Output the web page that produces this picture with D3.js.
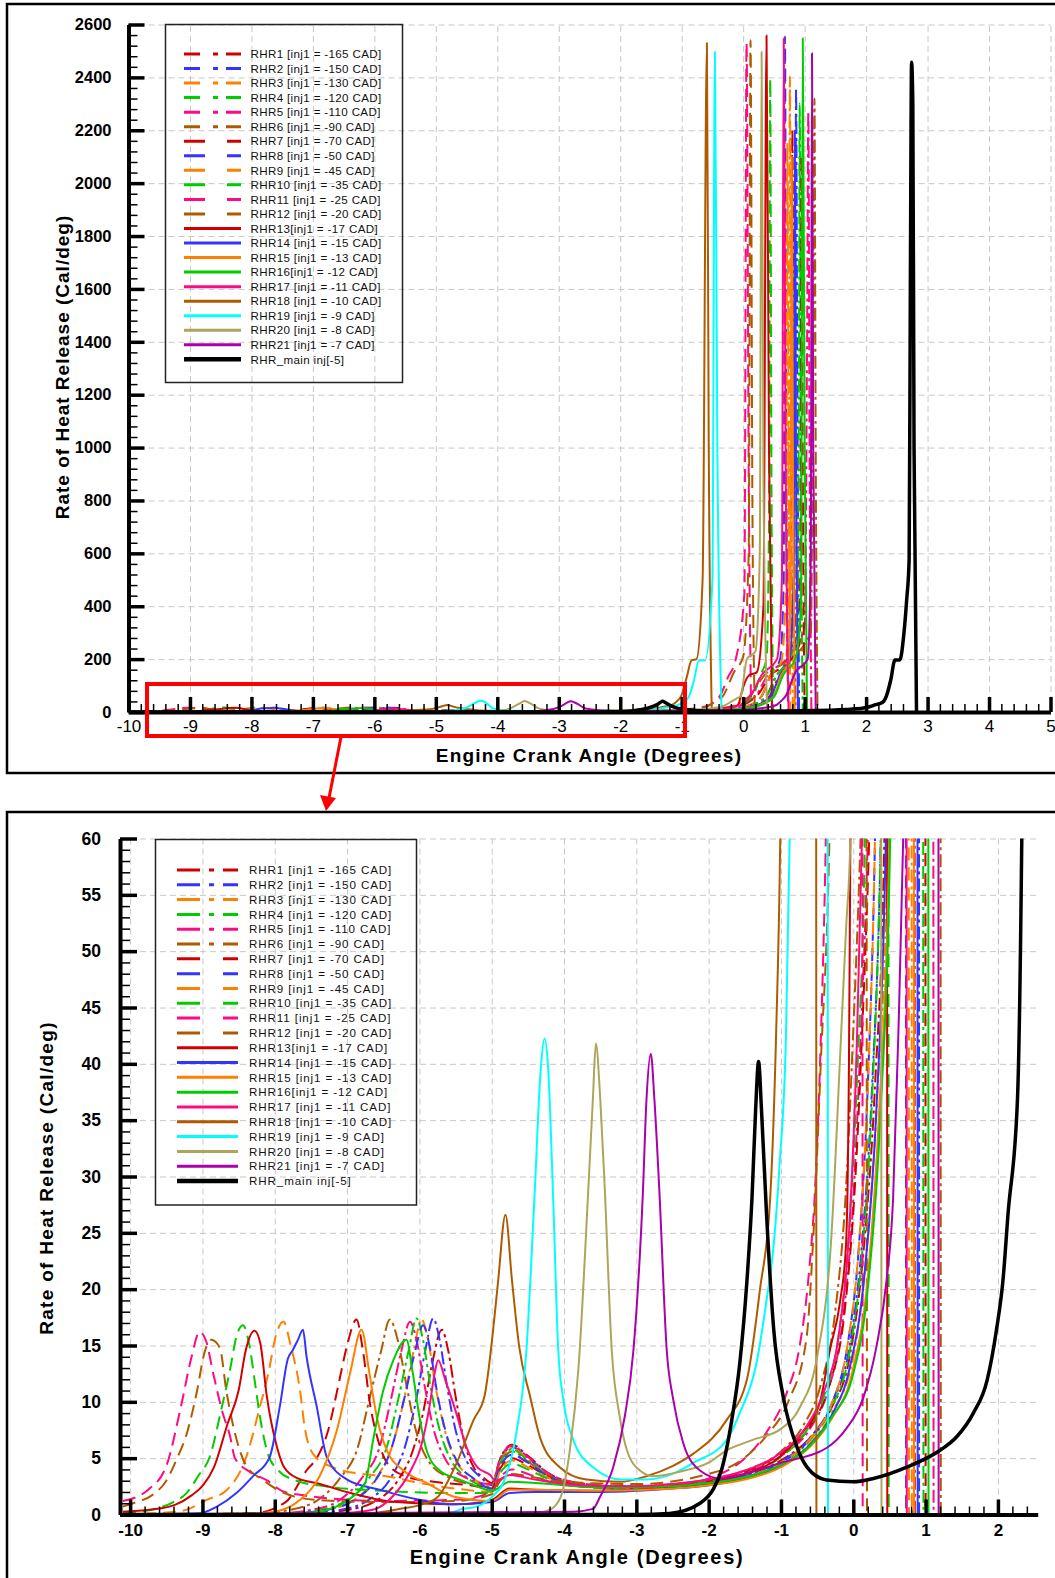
<!DOCTYPE html>
<html>
<head>
<meta charset="utf-8">
<script src="https://cdn.jsdelivr.net/npm/d3@7"></script>
<style>
  body { margin: 0; background: #fff; }
  svg { display: block; }
  text { font-family: "Liberation Sans", Arial, sans-serif; }
</style>
</head>
<body>
<svg id="chart" width="1055" height="1578"></svg>
<script>
// ---- data (x = crank angle deg, y = cal/deg) ----
const seriesLabels = [
  "RHR1 [inj1 = -165 CAD]", "RHR2 [inj1 = -150 CAD]", "RHR3 [inj1 = -130 CAD]",
  "RHR4 [inj1 = -120 CAD]", "RHR5 [inj1 = -110 CAD]", "RHR6 [inj1 = -90 CAD]",
  "RHR7 [inj1 = -70 CAD]", "RHR8 [inj1 = -50 CAD]", "RHR9 [inj1 = -45 CAD]",
  "RHR10 [inj1 = -35 CAD]", "RHR11 [inj1 = -25 CAD]", "RHR12 [inj1 = -20 CAD]",
  "RHR13[inj1 = -17 CAD]", "RHR14 [inj1 = -15 CAD]", "RHR15 [inj1 = -13 CAD]",
  "RHR16[inj1 = -12 CAD]", "RHR17 [inj1 = -11 CAD]", "RHR18 [inj1 = -10 CAD]",
  "RHR19 [inj1 = -9 CAD]", "RHR20 [inj1 = -8 CAD]", "RHR21 [inj1 = -7 CAD]",
  "RHR_main inj[-5]"
];

const rhr1 = [[-10.1,0],[-7.5,0.1],[-7.0,0.4],[-6.6,1.2],[-6.3,3.0],[-6.1,5.5],[-5.95,9],[-5.82,13.5],[-5.69,16.4],[-5.6,14.5],[-5.5,10.5],[-5.38,6.5],[-5.25,4.2],[-5.1,3.2],[-5.0,2.8],[-4.88,5.0],[-4.72,6.2],[-4.5,5.2],[-4.2,3.6],[-3.8,2.8],[-3.2,2.5],[-2.5,2.6],[-2.0,2.9],[-1.5,3.5],[-1.0,4.8],[-0.6,6.8],[-0.3,9.5],[-0.05,14],[0.15,24],[0.3,38],[0.43,60],[0.55,120],[0.68,180],[0.76,260],[0.79,1500],[0.8,2200],[0.82,1200],[0.85,0]];
const rhr2 = [[-10.1,0],[-7.6,0.1],[-7.1,0.4],[-6.7,1.3],[-6.4,3.2],[-6.2,6],[-6.05,10],[-5.92,14.5],[-5.81,17.4],[-5.72,15.5],[-5.62,11.5],[-5.5,7.5],[-5.35,4.8],[-5.15,3.3],[-5.0,2.6],[-4.88,4.8],[-4.72,6.0],[-4.5,5.0],[-4.2,3.5],[-3.8,2.7],[-3.2,2.4],[-2.5,2.5],[-2.0,2.8],[-1.5,3.4],[-1.0,4.7],[-0.6,6.8],[-0.3,9.8],[-0.05,15],[0.12,24],[0.26,38],[0.38,60],[0.52,130],[0.7,190],[0.82,280],[0.85,1600],[0.86,2360],[0.88,1300],[0.91,0]];
const rhr3 = [[-10.1,0],[-7.8,0.1],[-7.3,0.4],[-6.9,1.3],[-6.6,3.2],[-6.38,6],[-6.22,10],[-6.08,14.5],[-5.97,17.3],[-5.88,15.5],[-5.78,11.5],[-5.65,7.5],[-5.5,4.8],[-5.3,3.4],[-5.0,2.5],[-4.88,4.7],[-4.72,5.9],[-4.5,4.9],[-4.2,3.4],[-3.8,2.6],[-3.2,2.3],[-2.5,2.4],[-2.0,2.7],[-1.5,3.2],[-1.0,4.4],[-0.6,6.3],[-0.3,9],[0.0,14],[0.18,23],[0.33,37],[0.48,60],[0.6,140],[0.7,200],[0.74,600],[0.76,2403],[0.78,1000],[0.81,0]];
const rhr4 = [[-10.1,0],[-7.9,0.1],[-7.4,0.4],[-7.0,1.3],[-6.7,3.2],[-6.45,6],[-6.3,10],[-6.15,14.5],[-6.04,17.4],[-5.95,15.5],[-5.85,11.5],[-5.72,7.5],[-5.56,4.8],[-5.35,3.3],[-5.0,2.4],[-4.88,4.6],[-4.72,5.8],[-4.5,4.8],[-4.2,3.4],[-3.8,2.6],[-3.2,2.3],[-2.5,2.4],[-2.0,2.7],[-1.5,3.3],[-1.0,4.6],[-0.6,6.6],[-0.3,9.5],[-0.05,14.5],[0.12,23],[0.26,37],[0.38,60],[0.55,140],[0.75,200],[0.88,300],[0.91,1500],[0.92,2300],[0.94,900],[0.97,0]];
const rhr5 = [[-10.1,0],[-8.0,0.1],[-7.5,0.4],[-7.1,1.3],[-6.8,3.2],[-6.55,6],[-6.4,10],[-6.25,14.5],[-6.13,17.1],[-6.04,15.5],[-5.93,11.5],[-5.8,7.5],[-5.63,4.8],[-5.4,3.4],[-5.0,2.7],[-4.88,5.0],[-4.72,6.1],[-4.5,5.1],[-4.2,3.6],[-3.8,2.8],[-3.2,2.5],[-2.5,2.6],[-2.0,2.9],[-1.5,3.7],[-1.0,5.2],[-0.6,7.6],[-0.35,11],[-0.15,17],[0.0,28],[0.1,42],[0.2,60],[0.4,140],[0.7,200],[1.0,320],[1.04,1400],[1.06,2270],[1.08,1000],[1.11,0]];
const rhr6 = [[-10.1,0],[-8.2,0.1],[-7.8,0.4],[-7.4,1.3],[-7.1,3.2],[-6.85,6],[-6.7,10],[-6.53,14.5],[-6.41,17.3],[-6.3,15.5],[-6.18,11.5],[-6.05,7.5],[-5.88,4.8],[-5.6,3.3],[-5.2,2.6],[-5.0,2.4],[-4.88,4.4],[-4.72,5.6],[-4.5,4.7],[-4.2,3.4],[-3.8,2.7],[-3.2,2.5],[-2.5,2.7],[-2.0,3.1],[-1.5,3.9],[-1.0,5.6],[-0.7,7.8],[-0.45,11.5],[-0.25,18],[-0.1,29],[0.0,43],[0.1,60],[0.35,140],[0.7,190],[1.1,300],[1.14,1400],[1.16,2320],[1.18,1000],[1.21,0]];
const rhr7 = [[-10.1,0],[-8.3,0.1],[-7.85,1.1],[-7.55,4.0],[-7.42,5],[-7.26,7.5],[-7.12,11.5],[-7.0,15],[-6.87,17.3],[-6.78,14.5],[-6.68,9.7],[-6.58,6.8],[-6.45,4.6],[-6.2,3.4],[-5.8,2.9],[-5.3,2.6],[-5.0,2.3],[-4.88,4.1],[-4.72,5.0],[-4.5,4.4],[-4.2,3.3],[-3.8,2.6],[-3.2,2.4],[-2.5,2.6],[-2.0,3.0],[-1.5,3.8],[-1.0,5.4],[-0.6,7.8],[-0.33,11.5],[-0.12,18],[0.03,30],[0.13,44],[0.22,60],[0.45,140],[0.75,190],[0.92,260],[0.94,1300],[0.95,2100],[0.97,900],[1.0,0]];
const rhr8 = [[-10.1,0],[-7.8,0.1],[-7.3,0.4],[-6.9,1.3],[-6.6,3.1],[-6.38,6],[-6.22,10],[-6.07,14.2],[-5.95,16.8],[-5.86,15],[-5.76,11],[-5.63,7.2],[-5.47,4.6],[-5.25,3.2],[-5.0,2.3],[-4.88,4.3],[-4.72,5.3],[-4.5,4.6],[-4.2,3.3],[-3.8,2.6],[-3.2,2.3],[-2.5,2.4],[-2.0,2.7],[-1.5,3.3],[-1.0,4.6],[-0.6,6.7],[-0.3,9.8],[-0.08,15],[0.08,24],[0.2,38],[0.3,60],[0.45,140],[0.6,200],[0.66,500],[0.68,2555],[0.7,1100],[0.73,0]];
const rhr9 = [[-10.1,0],[-9.3,0.3],[-8.94,1.3],[-8.66,2.2],[-8.4,5],[-8.2,9.7],[-8.09,12.5],[-7.98,16],[-7.88,17.1],[-7.78,15],[-7.65,11],[-7.58,7.5],[-7.45,5.2],[-7.2,4.2],[-6.8,3.6],[-6.46,3.4],[-6.0,2.8],[-5.5,2.3],[-5.0,2.0],[-4.88,3.9],[-4.72,4.8],[-4.5,4.2],[-4.2,3.2],[-3.8,2.5],[-3.2,2.3],[-2.5,2.4],[-2.0,2.7],[-1.5,3.3],[-1.0,4.6],[-0.6,6.7],[-0.3,9.8],[-0.08,15],[0.08,24],[0.2,38],[0.3,60],[0.45,140],[0.62,190],[0.7,500],[0.72,2150],[0.74,900],[0.77,0]];
const rhr10 = [[-10.1,0.1],[-9.6,0.6],[-9.4,1.1],[-9.22,1.9],[-9.05,3.5],[-8.9,5.1],[-8.74,9.3],[-8.62,12.8],[-8.53,15.8],[-8.44,16.8],[-8.35,15],[-8.28,12],[-8.2,8.5],[-8.1,5.5],[-7.95,3.9],[-7.7,3.0],[-7.3,2.5],[-6.5,2.1],[-5.5,1.9],[-5.0,1.9],[-4.88,3.7],[-4.72,4.5],[-4.5,4.0],[-4.2,3.1],[-3.8,2.5],[-3.2,2.3],[-2.5,2.5],[-2.0,2.9],[-1.5,3.6],[-1.0,5.1],[-0.65,7.4],[-0.4,10.6],[-0.2,16],[-0.05,26],[0.06,40],[0.16,60],[0.28,140],[0.38,200],[0.42,700],[0.44,2395],[0.46,900],[0.49,0]];
const rhr11 = [[-10.1,1.2],[-9.75,2.2],[-9.5,4.3],[-9.3,9.5],[-9.15,14],[-9.04,16.2],[-8.95,15.4],[-8.85,12.5],[-8.72,9],[-8.62,7],[-8.55,5],[-8.35,3.8],[-8.1,3.0],[-7.9,2.1],[-7.6,1.7],[-7.2,1.4],[-6.5,1.2],[-5.5,1.3],[-5.0,2.0],[-4.88,3.3],[-4.72,4.0],[-4.5,3.6],[-4.2,2.9],[-3.8,2.5],[-3.2,2.4],[-2.5,2.6],[-2.0,3.2],[-1.5,5.0],[-1.2,7.3],[-0.92,10.8],[-0.74,15],[-0.62,21],[-0.52,30],[-0.45,42],[-0.38,60],[-0.25,130],[-0.12,200],[0.02,450],[0.055,2530],[0.09,900],[0.13,0]];
const rhr12 = [[-10.1,0.7],[-9.96,1.0],[-9.7,1.7],[-9.5,3.0],[-9.35,5],[-9.22,7.1],[-9.08,10.8],[-8.97,14.4],[-8.88,15.5],[-8.76,14.8],[-8.67,11],[-8.55,7.2],[-8.4,4.4],[-8.17,3.1],[-7.9,2.0],[-7.43,1.3],[-6.5,1.1],[-5.5,1.2],[-5.0,1.8],[-4.88,3.0],[-4.72,3.6],[-4.5,3.4],[-4.0,2.9],[-3.0,2.7],[-2.0,3.6],[-1.6,4.6],[-1.2,7],[-0.9,10],[-0.65,15.5],[-0.55,25],[-0.45,40],[-0.33,60],[-0.15,150],[0.0,210],[0.09,600],[0.12,2540],[0.15,800],[0.19,0]];
const rhr13 = [[-10.1,0.25],[-9.57,0.55],[-9.38,0.85],[-9.15,1.7],[-8.99,2.6],[-8.84,4.2],[-8.65,8.1],[-8.5,11],[-8.4,14.6],[-8.28,16.3],[-8.2,15.2],[-8.11,10.5],[-7.97,6.0],[-7.87,4.2],[-7.68,3.2],[-7.43,2.8],[-6.95,1.9],[-6.46,1.2],[-6.0,1.0],[-5.5,0.9],[-5.0,1.3],[-4.75,2.3],[-4.4,2.2],[-3.5,2.1],[-2.5,2.4],[-2.0,2.8],[-1.5,3.6],[-1.0,5.2],[-0.7,7.3],[-0.46,10],[-0.32,14.7],[-0.18,19],[-0.1,24],[-0.06,40],[-0.04,60],[0.1,140],[0.22,150],[0.33,400],[0.38,2558],[0.42,1000],[0.47,0]];
const rhr14 = [[-10.1,0],[-9.04,0.1],[-8.8,0.7],[-8.53,1.9],[-8.3,3.4],[-8.07,5.1],[-7.93,9.6],[-7.82,13.8],[-7.75,14.6],[-7.68,15.5],[-7.61,16.4],[-7.56,14],[-7.42,9.6],[-7.28,5.1],[-7.0,3.1],[-6.55,2.2],[-6.0,1.3],[-5.53,0.9],[-5.0,1.1],[-4.75,1.9],[-4.4,2.0],[-3.5,2.0],[-2.5,2.3],[-2.0,2.6],[-1.5,3.2],[-1.0,4.3],[-0.6,6.2],[-0.3,8.8],[-0.05,13],[0.15,21],[0.32,36],[0.45,60],[0.6,140],[0.75,190],[0.82,500],[0.84,2200],[0.86,900],[0.89,0]];
const rhr15 = [[-10.1,0],[-8.2,0.1],[-7.9,0.4],[-7.65,1.3],[-7.38,3.4],[-7.14,7.5],[-6.96,12.5],[-6.8,16.4],[-6.69,12.5],[-6.59,8.7],[-6.45,5.7],[-6.22,3.9],[-5.9,2.8],[-5.53,1.6],[-5.0,1.2],[-4.75,2.2],[-4.4,2.2],[-3.5,2.1],[-2.5,2.3],[-2.0,2.6],[-1.5,3.1],[-1.0,4.2],[-0.6,6.0],[-0.3,8.5],[0.0,13],[0.2,21],[0.36,36],[0.5,60],[0.62,140],[0.74,190],[0.77,500],[0.79,2100],[0.81,900],[0.84,0]];
const rhr16 = [[-10.1,0],[-7.6,0.1],[-7.28,0.4],[-6.92,1.6],[-6.75,2.8],[-6.64,6.6],[-6.5,11],[-6.36,13.7],[-6.18,15.5],[-6.09,12.5],[-6.0,8.7],[-5.9,5.7],[-5.72,3.9],[-5.44,3.1],[-5.2,2.5],[-5.0,2.1],[-4.75,2.9],[-4.4,2.8],[-3.5,2.4],[-2.5,2.5],[-2.0,2.8],[-1.5,3.3],[-1.0,4.4],[-0.6,6.1],[-0.3,8.6],[0.0,12.5],[0.2,20],[0.38,36],[0.51,60],[0.65,140],[0.85,200],[0.94,400],[0.97,2548],[1.0,1000],[1.04,0]];
const rhr17 = [[-10.1,0],[-7.2,0.1],[-6.66,0.4],[-6.37,1.6],[-6.12,3.9],[-5.98,6.0],[-5.86,9.6],[-5.79,12.5],[-5.74,13.7],[-5.64,11.9],[-5.49,9.0],[-5.35,6.0],[-5.2,4.2],[-5.02,3.5],[-4.95,3.0],[-4.75,3.5],[-4.4,3.1],[-3.8,2.6],[-3.0,2.5],[-2.5,2.7],[-2.0,3.1],[-1.5,3.9],[-1.0,5.5],[-0.65,7.8],[-0.4,11],[-0.2,16],[-0.05,26],[0.05,42],[0.12,60],[0.3,140],[0.55,200],[0.63,500],[0.66,2548],[0.69,1000],[0.74,0]];
const rhr18 = [[-10.1,0],[-6.7,0.1],[-6.22,0.55],[-5.98,0.85],[-5.74,1.6],[-5.49,4.5],[-5.25,8.4],[-5.1,10.5],[-4.98,16.4],[-4.91,20.8],[-4.81,26.6],[-4.72,20.8],[-4.62,14.9],[-4.47,10.5],[-4.33,6.8],[-4.06,4.2],[-3.69,3.1],[-3.23,2.9],[-2.86,3.4],[-2.5,4.3],[-2.21,5.4],[-1.75,8.4],[-1.47,12],[-1.29,20],[-1.15,28],[-1.07,42],[-1.01,60],[-0.92,130],[-0.84,195],[-0.76,200],[-0.66,500],[-0.59,2530],[-0.56,1000],[-0.51,0]];
const rhr19 = [[-10.1,0],[-5.6,0.1],[-5.43,0.45],[-5.21,0.7],[-4.99,1.6],[-4.84,2.8],[-4.66,7.2],[-4.52,14.6],[-4.41,28],[-4.32,39.7],[-4.27,42.25],[-4.22,39.7],[-4.15,28],[-4.08,14.6],[-4.01,10.2],[-3.87,6.6],[-3.6,4.2],[-3.2,3.1],[-2.86,3.1],[-2.5,3.6],[-2.21,4.6],[-1.75,6.6],[-1.57,9.0],[-1.34,13.4],[-1.2,19],[-1.1,24],[-1.02,31],[-0.93,42.7],[-0.88,60],[-0.8,120],[-0.72,195],[-0.62,195],[-0.5,500],[-0.46,2497],[-0.42,1000],[-0.35,0]];
const rhr20 = [[-10.1,0],[-4.4,0.1],[-4.2,0.4],[-4.05,1.5],[-3.92,5.7],[-3.8,13],[-3.66,29.4],[-3.6,37],[-3.56,41.8],[-3.5,37],[-3.44,29.4],[-3.34,14.6],[-3.23,8.7],[-3.13,5.7],[-2.95,3.9],[-2.77,3.4],[-2.4,3.8],[-2.0,4.6],[-1.75,5.7],[-1.4,6.6],[-1.0,7.6],[-0.74,9.5],[-0.5,14],[-0.3,25],[-0.18,41],[-0.1,52],[-0.04,60],[0.06,200],[0.2,230],[0.27,600],[0.3,2497],[0.33,900],[0.39,0]];
const rhr21 = [[-10.1,0],[-3.87,0.25],[-3.6,0.5],[-3.5,1.6],[-3.32,4.2],[-3.16,8.7],[-3.04,14.6],[-2.91,28.5],[-2.86,36.8],[-2.8,40.9],[-2.75,36.8],[-2.68,28.5],[-2.58,14.6],[-2.49,10.2],[-2.35,6.3],[-2.12,3.9],[-1.84,3.2],[-1.5,3.6],[-1.0,4.6],[-0.37,5.9],[-0.1,7.6],[0.14,10.4],[0.32,14.9],[0.46,20.8],[0.55,28],[0.62,42],[0.69,60],[0.85,150],[1.05,200],[1.1,600],[1.12,2491],[1.14,1000],[1.18,0]];
const rhrMain = [[-10.1,0],[-3.0,0],[-2.54,0.1],[-2.12,1.0],[-1.94,2.2],[-1.82,4.0],[-1.68,8.4],[-1.57,13.4],[-1.47,20.8],[-1.4,28.2],[-1.35,36],[-1.31,40.2],[-1.27,36],[-1.2,26.7],[-1.1,16.4],[-0.97,10.5],[-0.78,6.0],[-0.64,4.2],[-0.37,3.06],[0.0,2.9],[0.28,3.2],[0.74,4.2],[1.2,5.7],[1.43,6.9],[1.66,9.0],[1.85,11.9],[1.98,16.4],[2.07,20.8],[2.14,26.7],[2.27,36.8],[2.33,60],[2.4,120],[2.47,197],[2.55,197],[2.61,285],[2.66,424],[2.7,575],[2.72,1615],[2.74,2457],[2.76,2300],[2.78,1000],[2.82,0]];

const seriesData = [rhr1, rhr2, rhr3, rhr4, rhr5, rhr6, rhr7, rhr8, rhr9, rhr10, rhr11,
  rhr12, rhr13, rhr14, rhr15, rhr16, rhr17, rhr18, rhr19, rhr20, rhr21, rhrMain];

// tick values
const topTicksX = d3.range(-10, 5.01, 1);
const topTicksY = d3.range(0, 2601, 200);
const bottomTicksX = d3.range(-10, 2.01, 1);
const bottomTicksY = d3.range(0, 61, 5);

// ---- styles (kept apart from the data) ----
const RED = "#d00000", BLUE = "#3434ff", ORANGE = "#ff8000", GREEN = "#00cc00",
      PINK = "#ff0a80", BROWN = "#b05a00", CYAN = "#00ffff", OLIVE = "#ada55a",
      PURPLE = "#ab00ab", BLACK = "#000000";
const seriesColors = [RED, BLUE, ORANGE, GREEN, PINK, BROWN, RED, BLUE, ORANGE, GREEN, PINK, BROWN,
  RED, BLUE, ORANGE, GREEN, PINK, BROWN, CYAN, OLIVE, PURPLE, BLACK];
const seriesKind = ["dd","dd","dd","dd","dd","dd","dash","dash","dash","dash","dash","dash",
  "solid","solid","solid","solid","solid","solid","solid","solid","solid","main"];

const svg = d3.select("#chart");

const panels = [
  {
    id: "clipTop",
    left: 128.5, right: 1050.5, top: 24.5, bottom: 712,
    xDomain: [-10, 5], yDomain: [0, 2600],
    ticksX: topTicksX, ticksY: topTicksY,
    minorX: d3.range(-10, 5.01, 0.2), minorY: d3.range(0, 2601, 40),
    gridX: topTicksX.slice(1), gridY: topTicksY.slice(1),
    xLabelFont: "normal", xLabelSize: 17, xPad: 8,
    yLabelSize: 16.5, yPad: 17,
    majorLenX: 15, minorLenX: 8, majorLenY: 16, minorLenY: 9,
    legend: { x: 165.5, y: 24.5, w: 237, h: 358, row0: 54, step: 14.54, s0: 184, s1: 241, tx: 250.5,
      dd: "16,13,5,8", dash: "21,22", font: 11.6, spacing: 0.35 },
    xTitle: { x: 589, y: 755, size: 19, spacing: 1.2 },
    yTitle: { x: 62, y: 367, size: 19, spacing: 1 }
  },
  {
    id: "clipBottom",
    left: 120, right: 1037.7, top: 838.5, bottom: 1514.5,
    xDomain: [-10.14, 2.55], yDomain: [0, 60],
    ticksX: bottomTicksX, ticksY: bottomTicksY,
    minorX: d3.range(-10, 2.55, 0.2), minorY: d3.range(0, 61, 1),
    gridX: bottomTicksX, gridY: bottomTicksY.slice(1),
    xLabelFont: "bold", xLabelSize: 17, xPad: 9,
    yLabelSize: 17.5, yPad: 19,
    majorLenX: 15, minorLenX: 8, majorLenY: 17, minorLenY: 10,
    legend: { x: 155.5, y: 839.5, w: 261, h: 365.5, row0: 870, step: 14.81, s0: 177, s1: 238, tx: 249,
      dd: "23,9,5,9", dash: "23,23", font: 11.6, spacing: 0.9 },
    xTitle: { x: 577, y: 1557, size: 20, spacing: 1.7 },
    yTitle: { x: 46, y: 1178, size: 19, spacing: 1.3 }
  }
];

// outer frames
svg.append("rect").attr("x", 7).attr("y", 4).attr("width", 1060).attr("height", 769)
  .attr("fill", "none").attr("stroke", "#000").attr("stroke-width", 2.5);
svg.append("rect").attr("x", 7).attr("y", 812).attr("width", 1060).attr("height", 790)
  .attr("fill", "none").attr("stroke", "#000").attr("stroke-width", 2.5);

panels.forEach(drawPanel);

function drawPanel(p) {
  const x = d3.scaleLinear().domain(p.xDomain).range([p.left, p.right]);
  const y = d3.scaleLinear().domain(p.yDomain).range([p.bottom, p.top]);
  const g = svg.append("g");

  // dashed grid
  g.append("g").attr("transform", `translate(0,${p.bottom})`)
    .call(d3.axisBottom(x).tickValues(p.gridX).tickSize(-(p.bottom - p.top)).tickFormat(""))
    .call(a => a.select(".domain").remove())
    .selectAll("line").attr("stroke", "#c8c8c8").attr("stroke-dasharray", "6,4");
  g.append("g").attr("transform", `translate(${p.left},0)`)
    .call(d3.axisLeft(y).tickValues(p.gridY).tickSize(-(p.right - p.left)).tickFormat(""))
    .call(a => a.select(".domain").remove())
    .selectAll("line").attr("stroke", "#c8c8c8").attr("stroke-dasharray", "6,4");

  // legend
  const L = p.legend;
  const lg = g.append("g");
  lg.append("rect").attr("x", L.x).attr("y", L.y).attr("width", L.w).attr("height", L.h)
    .attr("fill", "none").attr("stroke", "#222").attr("stroke-width", 1.5);
  seriesLabels.forEach((name, i) => {
    const yy = L.row0 + i * L.step;
    const k = seriesKind[i];
    lg.append("line").attr("x1", L.s0).attr("x2", L.s1).attr("y1", yy).attr("y2", yy)
      .attr("stroke", seriesColors[i]).attr("stroke-width", k === "main" ? 4.5 : 3)
      .attr("stroke-dasharray", k === "dd" ? L.dd : k === "dash" ? L.dash : null);
    lg.append("text").attr("x", L.tx).attr("y", yy + 4.2)
      .attr("font-size", L.font).attr("letter-spacing", L.spacing).attr("fill", "#111")
      .text(name);
  });

  // data lines
  g.append("clipPath").attr("id", p.id).append("rect")
    .attr("x", p.left).attr("y", p.top).attr("width", p.right - p.left).attr("height", p.bottom - p.top);
  const line = d3.line().x(d => x(d[0])).y(d => y(d[1])).curve(d3.curveMonotoneX);
  const lines = g.append("g").attr("clip-path", `url(#${p.id})`);
  seriesData.forEach((s, i) => {
    const k = seriesKind[i];
    lines.append("path").attr("d", line(s)).attr("fill", "none")
      .attr("stroke", seriesColors[i])
      .attr("stroke-width", k === "main" ? 3.5 : 2)
      .attr("stroke-linejoin", "round")
      .attr("stroke-dasharray", k === "dd" ? "13,4,3,4" : k === "dash" ? "13,7" : null);
  });

  // axes
  const xMinor = g.append("g").attr("transform", `translate(0,${p.bottom})`)
    .call(d3.axisBottom(x).tickValues(p.minorX).tickSize(-p.minorLenX).tickFormat(""));
  xMinor.select(".domain").remove();
  xMinor.selectAll("line").attr("stroke", "#000").attr("stroke-width", 1.5);

  const xAxis = g.append("g").attr("transform", `translate(0,${p.bottom})`)
    .call(d3.axisBottom(x).tickValues(p.ticksX).tickSize(-p.majorLenX).tickSizeOuter(0)
      .tickPadding(p.xPad).tickFormat(d => String(d)));
  xAxis.select(".domain").attr("stroke", "#000").attr("stroke-width", 4);
  xAxis.selectAll("line").attr("stroke", "#000").attr("stroke-width", 3.5);
  xAxis.selectAll("text").attr("font-size", p.xLabelSize).attr("font-weight", p.xLabelFont)
    .attr("font-family", '"Liberation Sans", Arial, sans-serif').attr("fill", "#000");

  const yMinor = g.append("g").attr("transform", `translate(${p.left},0)`)
    .call(d3.axisLeft(y).tickValues(p.minorY).tickSize(-p.minorLenY).tickFormat(""));
  yMinor.select(".domain").remove();
  yMinor.selectAll("line").attr("stroke", "#000").attr("stroke-width", 1.5);

  const yAxis = g.append("g").attr("transform", `translate(${p.left},0)`)
    .call(d3.axisLeft(y).tickValues(p.ticksY).tickSize(-p.majorLenY).tickSizeOuter(0)
      .tickPadding(p.yPad).tickFormat(d => String(d)));
  yAxis.select(".domain").attr("stroke", "#000").attr("stroke-width", 4);
  yAxis.selectAll("line").attr("stroke", "#000").attr("stroke-width", 3.5);
  yAxis.selectAll("text").attr("font-size", p.yLabelSize).attr("font-weight", "bold")
    .attr("font-family", '"Liberation Sans", Arial, sans-serif').attr("fill", "#000");

  // titles
  g.append("text").attr("x", p.xTitle.x).attr("y", p.xTitle.y)
    .attr("text-anchor", "middle").attr("dominant-baseline", "central")
    .attr("font-size", p.xTitle.size).attr("font-weight", "bold")
    .attr("letter-spacing", p.xTitle.spacing)
    .text("Engine Crank Angle (Degrees)");
  g.append("text")
    .attr("transform", `translate(${p.yTitle.x},${p.yTitle.y}) rotate(-90)`)
    .attr("text-anchor", "middle").attr("dominant-baseline", "central")
    .attr("font-size", p.yTitle.size).attr("font-weight", "bold")
    .attr("letter-spacing", p.yTitle.spacing)
    .text("Rate of Heat Release (Cal/deg)");
}

// red zoom box and arrow
svg.append("rect").attr("x", 147).attr("y", 684).attr("width", 538).attr("height", 52)
  .attr("fill", "none").attr("stroke", "#ff0000").attr("stroke-width", 4);
svg.append("line").attr("x1", 341).attr("y1", 737).attr("x2", 329).attr("y2", 798)
  .attr("stroke", "#ff0000").attr("stroke-width", 3);
svg.append("path").attr("d", "M320,795 L336,798 L326,811 Z").attr("fill", "#ff0000");
</script>
</body>
</html>
